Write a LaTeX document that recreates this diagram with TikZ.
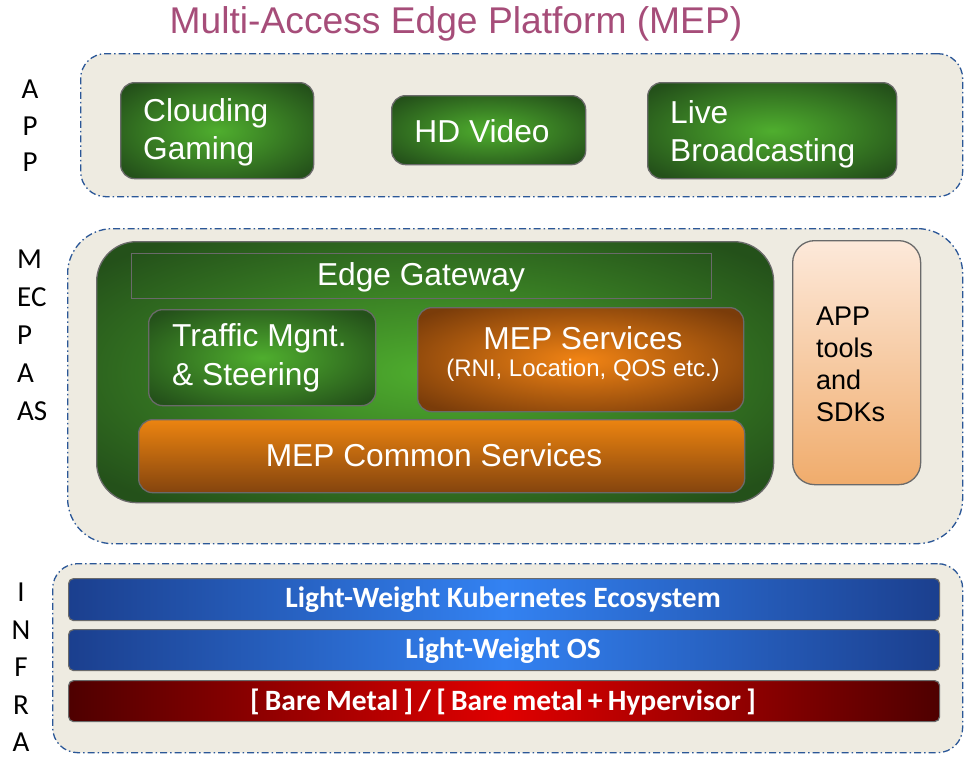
\documentclass[tikz,border=0pt]{standalone}
\usepackage{fontspec}
\setmainfont{Liberation Sans}
\newfontfamily\carlito{Carlito}
\definecolor{titlec}{HTML}{A64D79}
\definecolor{bgc}{HTML}{EEEBE1}
\definecolor{dashc}{HTML}{2B5797}
\definecolor{gin}{HTML}{4FAE2E}
\definecolor{gout}{HTML}{24511A}
\definecolor{oin}{HTML}{F28414}
\definecolor{oout}{HTML}{7A3C0A}
\definecolor{ctop}{HTML}{EC8410}
\definecolor{cbot}{HTML}{84440E}
\definecolor{ttop}{HTML}{FDE9DA}
\definecolor{tbot}{HTML}{F0AC6C}
\definecolor{bin}{HTML}{3382F2}
\definecolor{bout}{HTML}{1B3F8E}
\definecolor{rin}{HTML}{E00000}
\definecolor{rout}{HTML}{4E0000}
\definecolor{edgec}{HTML}{6A6A6A}
\pgfdeclareradialshading{greenglow}{\pgfpointorigin}{color(0bp)=(gin); color(32bp)=(gout); color(50bp)=(gout)}
\pgfdeclareradialshading{orangeglow}{\pgfpointorigin}{color(0bp)=(oin); color(32bp)=(oout); color(50bp)=(oout)}
\tikzset{
  layer/.style={draw=dashc, line width=1.3pt, dash pattern=on 7pt off 3pt on 1.5pt off 3pt, fill=bgc, anchor=north west, inner sep=0pt},
  box/.style={draw=edgec, line width=1.3pt, rounded corners=14pt, inner sep=0pt, anchor=north west},
  gbox/.style={box, shading=greenglow},
  obox/.style={box, shading=orangeglow},
  boxtext/.style={text=white, inner sep=0pt, font=\fontsize{31.7}{38}\selectfont},
  bar/.style={draw=edgec, line width=1.2pt, rounded corners=5pt, inner sep=0pt, anchor=north west, minimum width=871pt},
  bartext/.style={text=white, inner sep=0pt, font=\carlito\bfseries\fontsize{29.5}{32}\selectfont},
  sidelabel/.style={font=\carlito\fontsize{29}{38}\selectfont, inner sep=0pt}
}
\begin{document}
\begin{tikzpicture}[x=1pt, y=-1pt]
\useasboundingbox (0,0) rectangle (965,756);
% title
\node[text=titlec, font=\fontsize{37.2}{42}\selectfont, anchor=base, inner sep=0pt] (title) at (456,33) {Multi-Access Edge Platform (MEP)};
% layers
\node[layer, rounded corners=25pt, minimum width=882pt, minimum height=143pt] (applayer) at (80,53) {};
\node[layer, rounded corners=45pt, minimum width=895pt, minimum height=315pt] (meclayer) at (67,228) {};
\node[layer, rounded corners=25pt, minimum width=910pt, minimum height=189pt] (infralayer) at (52,563) {};
% side labels
\node[sidelabel, align=center, anchor=north, font=\carlito\fontsize{29}{36.5}\selectfont] (lapp) at (30,80) {A\\P\\P};
\node[sidelabel, align=left, anchor=north west] (lmec) at (17,250) {M\\EC\\P\\A\\AS};
\node[sidelabel, align=center, anchor=north, font=\carlito\fontsize{29}{37.5}\selectfont] (linfra) at (21,583) {I\\N\\F\\R\\A};
% APP row
\node[gbox, minimum width=193pt, minimum height=96pt] (cloud) at (120,82) {};
\node[boxtext, align=left, anchor=west] (cloudtxt) at (143,132) {Clouding\\Gaming};
\node[gbox, minimum width=194pt, minimum height=69pt] (hd) at (391,95) {};
\node[boxtext] (hdtxt) at (482,131) {HD Video};
\node[gbox, minimum width=249pt, minimum height=96pt] (live) at (647,82) {};
\node[boxtext, align=left, anchor=west] (livetxt) at (670,134) {Live\\Broadcasting};
% MEC PaaS
\node[gbox, rounded corners=40pt, minimum width=677pt, minimum height=261pt] (paas) at (96,241) {};
\node[box, rounded corners=0pt, minimum width=580pt, minimum height=45pt] (gw) at (131,253) {};
\node[boxtext] (gwtxt) at (421,277) {Edge Gateway};
\node[gbox, minimum width=227pt, minimum height=96pt] (traffic) at (148,309) {};
\node[boxtext, align=left, anchor=west, font=\fontsize{31.7}{39}\selectfont] (traffictxt) at (172,358) {Traffic Mgnt.\\\& Steering};
\node[obox, minimum width=326pt, minimum height=104pt] (mepsvc) at (417,307) {};
\node[boxtext] (mepsvctxt) at (583,338) {MEP Services};
\node[boxtext, font=\fontsize{24}{28}\selectfont] (mepsvcsub) at (583,370) {(RNI, Location, QOS etc.)};
\node[box, top color=ctop, bottom color=cbot, minimum width=606pt, minimum height=73pt] (common) at (138,419) {};
\node[boxtext] (commontxt) at (434,455) {MEP Common Services};
\node[box, rounded corners=22pt, top color=ttop, bottom color=tbot, minimum width=128pt, minimum height=244pt] (tools) at (792,240) {};
\node[inner sep=0pt, align=left, anchor=west, font=\fontsize{27}{32}\selectfont] (toolstxt) at (816,364) {APP\\tools\\and\\SDKs};
% INFRA
\node[bar, left color=bout, right color=bout, middle color=bin, minimum height=42pt] (kube) at (68,578) {};
\node[bartext] (kubetxt) at (503,600) {Light-Weight Kubernetes Ecosystem};
\node[bar, left color=bout, right color=bout, middle color=bin, minimum height=41pt] (os) at (68,629) {};
\node[bartext] (ostxt) at (503,651) {Light-Weight OS};
\node[bar, left color=rout, right color=rout, middle color=rin, minimum height=41pt] (metal) at (68,680) {};
\node[bartext] (metaltxt) at (503,702) {\spaceskip=5.2pt [ Bare Metal ] / [ Bare metal + Hypervisor ]};
\end{tikzpicture}
\end{document}
